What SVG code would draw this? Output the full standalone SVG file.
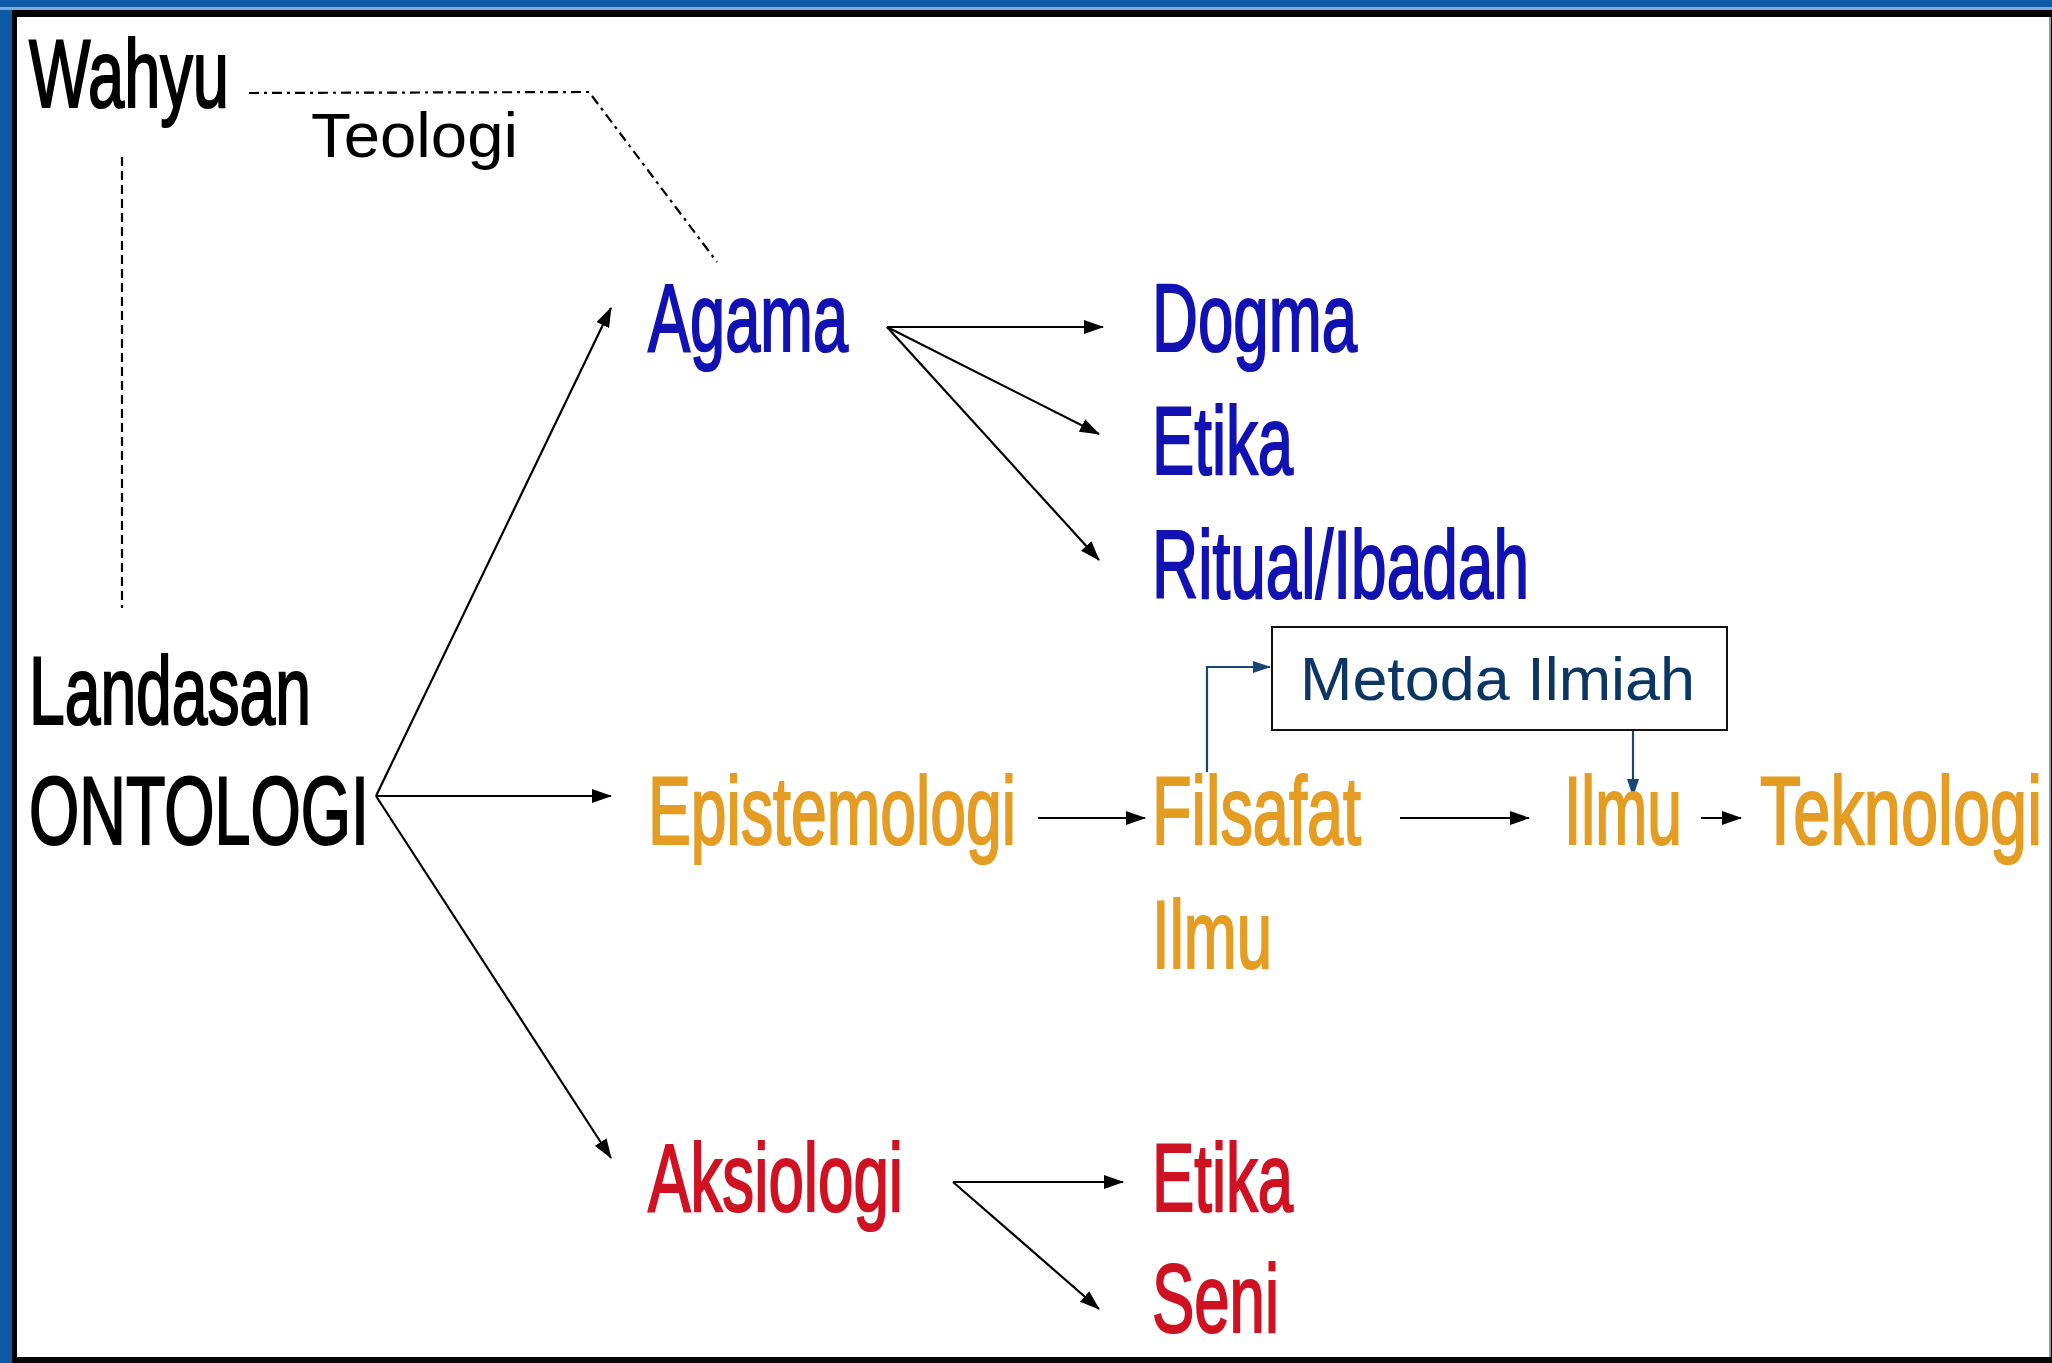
<svg xmlns="http://www.w3.org/2000/svg" width="2052" height="1363" viewBox="0 0 2052 1363">
<defs>
<style>
.t{font-family:"Liberation Sans",Arial,sans-serif;}
.big{font-size:96px;stroke-width:2.2px;}
.blue{fill:#1212b2;stroke:#1212b2;}
.orange{fill:#e49c22;stroke:#e49c22;}
.red{fill:#cf1222;stroke:#cf1222;}
.black{fill:#000;stroke:#000;}
.conn{stroke:#000;stroke-width:2.2;fill:none;}
.navy{stroke:#1a4677;stroke-width:2.2;fill:none;}
</style>
<marker id="ah" viewBox="0 0 20 14" refX="19" refY="7" markerWidth="20" markerHeight="14" markerUnits="userSpaceOnUse" orient="auto">
<path d="M0,0 L20,7 L0,14 Z" fill="#000"/>
</marker>
<marker id="ahn" viewBox="0 0 18 12" refX="17" refY="6" markerWidth="18" markerHeight="12" markerUnits="userSpaceOnUse" orient="auto">
<path d="M0,0 L18,6 L0,12 Z" fill="#1a4677"/>
</marker>
</defs>
<rect x="0" y="0" width="2052" height="1363" fill="#0e5aa6"/>
<rect x="0" y="7" width="2052" height="3" fill="#7fa9dc"/>
<rect x="12" y="10" width="2040" height="1353" fill="#050508"/>
<rect x="17" y="17" width="2033" height="1340" fill="#ffffff"/>
<line x1="2050" y1="17" x2="2050" y2="1357" stroke="#9a9a9a" stroke-width="2"/>

<g id="connectors">
<path class="conn" d="M249,93 L589,92 L717,262" stroke-dasharray="10 5 3 5" stroke-width="2"/>
<line class="conn" x1="122" y1="157" x2="122" y2="608" stroke-dasharray="9 5" stroke-width="2"/>
<line class="conn" x1="376" y1="796" x2="611" y2="308" marker-end="url(#ah)"/>
<line class="conn" x1="376" y1="796" x2="611" y2="796" marker-end="url(#ah)"/>
<line class="conn" x1="376" y1="796" x2="611" y2="1158" marker-end="url(#ah)"/>
<line class="conn" x1="887" y1="327" x2="1103" y2="327" marker-end="url(#ah)"/>
<line class="conn" x1="887" y1="327" x2="1099" y2="434" marker-end="url(#ah)"/>
<line class="conn" x1="887" y1="327" x2="1099" y2="560" marker-end="url(#ah)"/>
<line class="conn" x1="1038" y1="818" x2="1145" y2="818" marker-end="url(#ah)"/>
<line class="conn" x1="1400" y1="818" x2="1529" y2="818" marker-end="url(#ah)"/>
<line class="conn" x1="1701" y1="818" x2="1741" y2="818" marker-end="url(#ah)"/>
<line class="conn" x1="953" y1="1182" x2="1123" y2="1182" marker-end="url(#ah)"/>
<line class="conn" x1="953" y1="1182" x2="1099" y2="1309" marker-end="url(#ah)"/>
<path class="navy" d="M1207,772 L1207,667 L1270,667" marker-end="url(#ahn)"/>
<line class="navy" x1="1633" y1="730" x2="1633" y2="796" marker-end="url(#ahn)"/>
</g>

<g id="wahyu"><text class="t big black" x="29" y="107" textLength="200" lengthAdjust="spacingAndGlyphs">Wahyu</text></g>
<g id="teologi"><text class="t" x="311" y="157" font-size="63" fill="#000" textLength="207" lengthAdjust="spacingAndGlyphs">Teologi</text></g>
<g id="ontologi">
<text class="t big black" x="29" y="724" textLength="282" lengthAdjust="spacingAndGlyphs">Landasan</text>
<text class="t big black" x="29" y="844" textLength="340" lengthAdjust="spacingAndGlyphs">ONTOLOGI</text>
</g>
<g id="agama"><text class="t big blue" x="648" y="351" textLength="200" lengthAdjust="spacingAndGlyphs">Agama</text></g>
<g id="dogma"><text class="t big blue" x="1152" y="351" textLength="205" lengthAdjust="spacingAndGlyphs">Dogma</text></g>
<g id="etika-agama"><text class="t big blue" x="1152" y="474" textLength="141" lengthAdjust="spacingAndGlyphs">Etika</text></g>
<g id="ritual"><text class="t big blue" x="1152" y="598" textLength="377" lengthAdjust="spacingAndGlyphs">Ritual/Ibadah</text></g>
<g id="metoda">
<rect x="1272" y="627" width="455" height="103" fill="#fff" stroke="#111" stroke-width="2"/>
<text class="t" x="1300" y="700" font-size="62" fill="#0b3563" textLength="395" lengthAdjust="spacingAndGlyphs">Metoda Ilmiah</text>
</g>
<g id="epistemologi"><text class="t big orange" x="648" y="844" textLength="368" lengthAdjust="spacingAndGlyphs">Epistemologi</text></g>
<g id="filsafat">
<text class="t big orange" x="1152" y="844" textLength="209" lengthAdjust="spacingAndGlyphs">Filsafat</text>
<text class="t big orange" x="1152" y="968" textLength="120" lengthAdjust="spacingAndGlyphs">Ilmu</text>
</g>
<g id="ilmu"><text class="t big orange" x="1564" y="844" textLength="118" lengthAdjust="spacingAndGlyphs">Ilmu</text></g>
<g id="teknologi"><text class="t big orange" x="1760" y="844" textLength="282" lengthAdjust="spacingAndGlyphs">Teknologi</text></g>
<g id="aksiologi"><text class="t big red" x="648" y="1211" textLength="255" lengthAdjust="spacingAndGlyphs">Aksiologi</text></g>
<g id="etika-aksiologi"><text class="t big red" x="1152" y="1211" textLength="141" lengthAdjust="spacingAndGlyphs">Etika</text></g>
<g id="seni"><text class="t big red" x="1152" y="1332" textLength="127" lengthAdjust="spacingAndGlyphs">Seni</text></g>
</svg>
